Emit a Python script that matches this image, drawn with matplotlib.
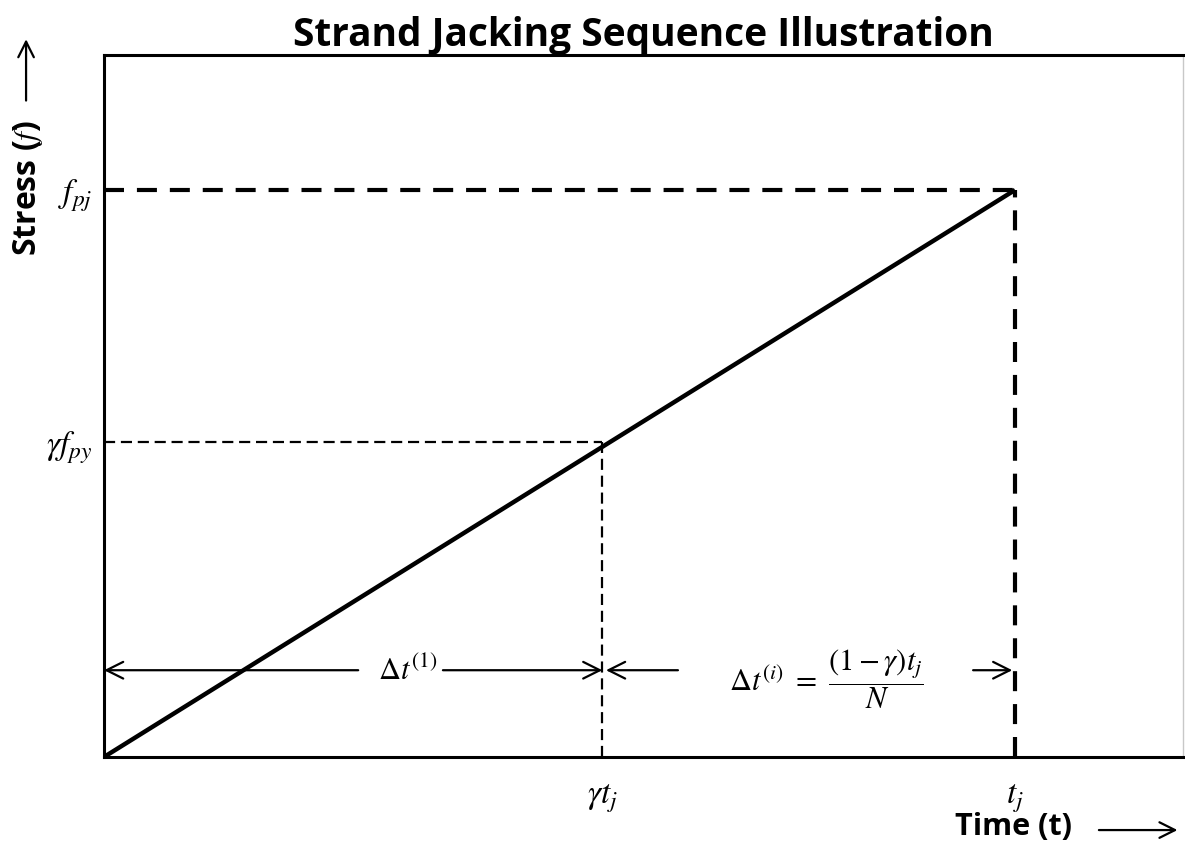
import matplotlib
matplotlib.use("Agg")
import matplotlib.pyplot as plt

plt.rcParams['mathtext.fontset'] = 'stix'
plt.rcParams['font.family'] = ['Open Sans', 'DejaVu Sans']

# data (normalised time / stress)
t_j = 1.0
gamma_t = 0.547
f_pj = 1.0
gamma_f = 0.556
line_t = [0.0, t_j]
line_f = [0.0, f_pj]
arrow_level = 0.153
x_max = 1.184
y_max = 1.238

x_ticks = [gamma_t, t_j]
x_labels = [r'$\gamma t_j$', r'$t_j$']
y_ticks = [gamma_f, f_pj]
y_labels = [r'$\gamma f_{py}$', r'$f_{pj}$']

fig = plt.figure(figsize=(11.85, 8.47), dpi=100)
ax = fig.add_axes([0.0878, 0.1063, 0.9102, 0.8287])

# main stress line
ax.plot(line_t, line_f, color='black', lw=3.2, solid_capstyle='butt', zorder=3)

# thick dashed guide lines to jacking point
ax.plot([0, t_j], [f_pj, f_pj], color='black', lw=3, dashes=(4.8, 3.1))
ax.plot([t_j, t_j], [0, f_pj], color='black', lw=3, dashes=(4.8, 3.1))

# thin dashed guide lines to gamma point
ax.plot([0, gamma_t], [gamma_f, gamma_f], color='black', lw=1.6, dashes=(5, 2.6))
ax.plot([gamma_t, gamma_t], [0, gamma_f], color='black', lw=1.6, dashes=(5, 2.6))

# dimension arrows
aprops = dict(arrowstyle='->', color='black', lw=1.6, mutation_scale=30, shrinkA=0, shrinkB=0)
ax.annotate('', xy=(0, arrow_level), xytext=(0.279, arrow_level), arrowprops=aprops)
ax.annotate('', xy=(gamma_t, arrow_level), xytext=(0.372, arrow_level), arrowprops=aprops)
ax.text(0.333, arrow_level - 0.003, r'$\Delta t^{(1)}$', fontsize=22, ha='center', va='center')

ax.annotate('', xy=(gamma_t + 0.004, arrow_level), xytext=(0.630, arrow_level), arrowprops=aprops)
ax.annotate('', xy=(t_j - 0.003, arrow_level), xytext=(0.954, arrow_level), arrowprops=aprops)
ax.text(0.793, arrow_level - 0.016,
        r'$\Delta t^{(i)}\ =\ \dfrac{(1-\gamma)t_j}{N}$', fontsize=22, ha='center', va='center')

ax.set_xlim(0, x_max)
ax.set_ylim(0, y_max)
ax.set_xticks(x_ticks)
ax.set_xticklabels(x_labels, fontsize=24)
ax.set_yticks(y_ticks)
ax.set_yticklabels(y_labels, fontsize=24)
ax.tick_params(axis='x', length=0, pad=18)
ax.tick_params(axis='y', length=0, pad=8)
for s in ['left', 'bottom', 'top']:
    ax.spines[s].set_linewidth(2.2)
ax.spines['right'].set_color('#c8c8c8')
ax.spines['right'].set_linewidth(1)

ax.set_title('Strand Jacking Sequence Illustration', fontsize=28, fontweight='bold', pad=6)

# axis labels with arrows
fig.text(0.024, 0.698, r'Stress ($\mathit{f}$)', rotation=90, fontsize=23, fontweight='bold',
         ha='center', va='bottom')
ax.annotate('', xy=(0.022, 0.957), xycoords='figure fraction', xytext=(0.022, 0.878),
            textcoords='figure fraction',
            arrowprops=dict(arrowstyle='->', color='black', lw=1.6, mutation_scale=28))
fig.text(0.806, 0.014, 'Time (t)', fontsize=22, fontweight='bold', ha='left', va='baseline')
ax.annotate('', xy=(0.996, 0.020), xycoords='figure fraction', xytext=(0.925, 0.020),
            textcoords='figure fraction',
            arrowprops=dict(arrowstyle='->', color='black', lw=1.6, mutation_scale=28))

fig.savefig('out.png', dpi=100)
